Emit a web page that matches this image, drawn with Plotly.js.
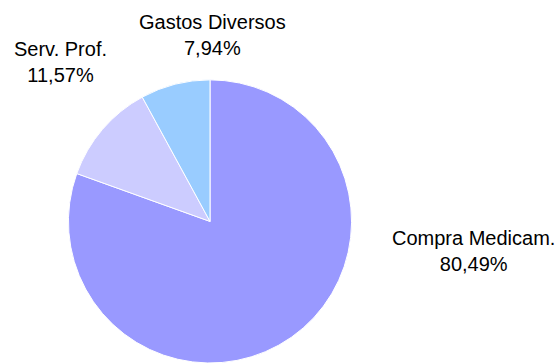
<!DOCTYPE html>
<html>
<head>
<meta charset="utf-8">
<script src="https://cdn.plot.ly/plotly-3.0.1.min.js"></script>
<style>html,body{margin:0;padding:0;background:#fff;}#chart{width:560px;height:363px;}</style>
</head>
<body>
<div id="chart"></div>
<script>
var categories = ["Compra Medicam.", "Serv. Prof.", "Gastos Diversos"];
var values = [80.49, 11.57, 7.94];
var colors = ["#9999ff", "#ccccff", "#99ccff"];

var labelPos = [
  {x: 473 / 560, y: 1 - 250.5 / 363},
  {x: 60 / 560, y: 1 - 62 / 363},
  {x: 212 / 560, y: 1 - 34.5 / 363}
];

function fmt(v) { return v.toFixed(2).replace('.', ',') + '%'; }

var annotations = categories.map(function (c, i) {
  return {
    text: c + '<br>' + fmt(values[i]),
    x: labelPos[i].x, y: labelPos[i].y,
    xref: 'paper', yref: 'paper',
    xanchor: 'center', yanchor: 'middle',
    showarrow: false,
    align: 'center',
    font: {family: 'Liberation Sans, Arial, sans-serif', size: 20, color: '#000'}
  };
});

var trace = {
  type: 'pie',
  labels: categories,
  values: values,
  marker: {colors: colors, line: {color: '#ffffff', width: 1}},
  sort: false,
  direction: 'clockwise',
  rotation: 0,
  textinfo: 'none',
  hoverinfo: 'none',
  domain: {x: [68 / 560, 352 / 560], y: [0, 0.78]}
};

var layout = {
  width: 560, height: 363,
  margin: {l: 0, r: 0, t: 0, b: 0},
  showlegend: false,
  paper_bgcolor: '#fff',
  annotations: annotations
};

Plotly.newPlot('chart', [trace], layout, {staticPlot: true, displayModeBar: false});
</script>
</body>
</html>
